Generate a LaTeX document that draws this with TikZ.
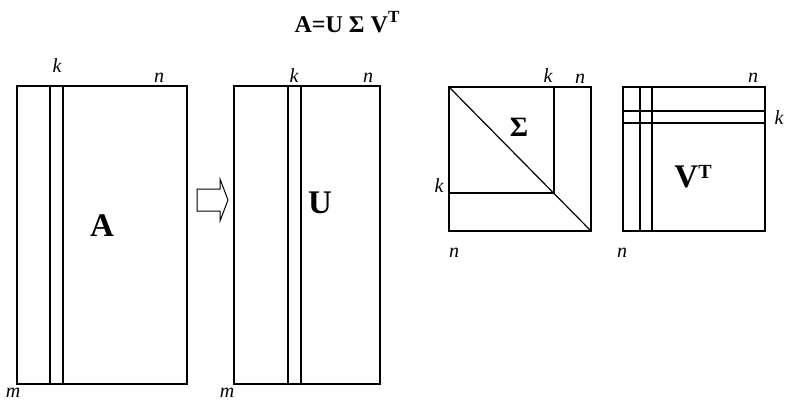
\documentclass[tikz,border=0pt]{standalone}
\usepackage{fontspec}
\setmainfont{Liberation Serif}
\begin{document}
\begin{tikzpicture}[x=1pt,y=-1pt,line width=1.2pt,
  mat/.style={draw,rectangle,inner sep=0pt,outer sep=0pt},
  lab/.style={font=\fontsize{20}{20}\selectfont\itshape,inner sep=0pt},
  big/.style={font=\fontsize{33}{33}\selectfont\bfseries,inner sep=0pt,anchor=base},
  arrowshape/.style={draw,line width=1pt,line join=miter}]
\useasboundingbox (0,0) rectangle (787,401);
% title
\node[font=\fontsize{24}{24}\selectfont\bfseries,inner sep=0pt,anchor=base] (title) at (347,33)
  {A=U Σ V\raisebox{0.42em}{\fontsize{17}{17}\selectfont T}};
% matrix A
\node[mat,minimum width=170pt,minimum height=298pt] (A) at (102,235) {};
\draw ([xshift=33pt]A.north west) -- ([xshift=33pt]A.south west);
\draw ([xshift=46pt]A.north west) -- ([xshift=46pt]A.south west);
\node[big] (Alab) at (102,236) {A};
\node[lab] (Ak) at (57,66) {k};
\node[lab] (An) at (159,78) {n};
\node[lab] (Am) at (13,393) {m};
% arrow
\draw[arrowshape] (197,189) -- (220,189) -- (220,179) -- (228,200) -- (220,221) -- (220,211) -- (197,211) -- cycle;
% matrix U
\node[mat,minimum width=146pt,minimum height=298pt] (U) at (307,235) {};
\draw ([xshift=54pt]U.north west) -- ([xshift=54pt]U.south west);
\draw ([xshift=67pt]U.north west) -- ([xshift=67pt]U.south west);
\node[big] (Ulab) at (320,213) {U};
\node[lab] (Uk) at (294,76) {k};
\node[lab] (Un) at (368,78) {n};
\node[lab] (Um) at (227,393) {m};
% Sigma
\node[mat,minimum width=142pt,minimum height=144pt] (S) at (520,159) {};
\coordinate (Sc) at (554,193);
\draw (S.north west) -- (S.south east);
\draw (S.north -| Sc) -- (Sc) -- (S.west |- Sc);
\node[font=\fontsize{28}{28}\selectfont\bfseries,inner sep=0pt,anchor=base] (Slab) at (519,137) {Σ};
\node[lab] (Sk1) at (548,76) {k};
\node[lab] (Sn1) at (580,79) {n};
\node[lab] (Sk2) at (439,186) {k};
\node[lab] (Sn2) at (454,253) {n};
% V^T
\node[mat,minimum width=142pt,minimum height=144pt] (V) at (694,159) {};
\draw ([xshift=17pt]V.north west) -- ([xshift=17pt]V.south west);
\draw ([xshift=29pt]V.north west) -- ([xshift=29pt]V.south west);
\draw ([yshift=-24pt]V.north west) -- ([yshift=-24pt]V.north east);
\draw ([yshift=-36pt]V.north west) -- ([yshift=-36pt]V.north east);
\node[big] (Vlab) at (693,187) {V\raisebox{0.25em}{\fontsize{20}{20}\selectfont T}};
\node[lab] (Vn1) at (753,78) {n};
\node[lab] (Vk) at (779,118) {k};
\node[lab] (Vn2) at (622,253) {n};
\end{tikzpicture}
\end{document}
